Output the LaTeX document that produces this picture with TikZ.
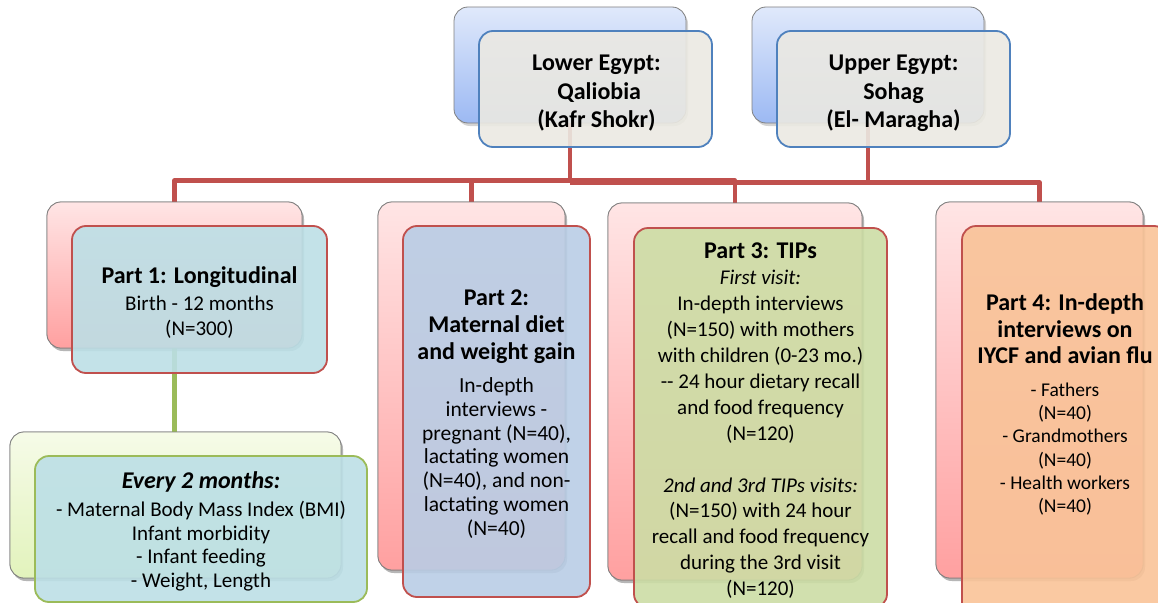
\documentclass[tikz,border=0pt]{standalone}
\usepackage{fontspec}
\setmainfont{Carlito}
\usetikzlibrary{fit,shadows}

\definecolor{redln}{HTML}{C0504D}
\definecolor{grnln}{HTML}{9BBB59}
\definecolor{blubd}{HTML}{4F81BD}
\definecolor{topfront}{HTML}{EBE9E2}
\definecolor{bluetop}{HTML}{E0E9FB}
\definecolor{bluebot}{HTML}{9CB9F3}
\definecolor{redtop}{HTML}{FFE5E5}
\definecolor{redbot}{HTML}{FFA0A0}
\definecolor{grntop}{HTML}{F6FBE8}
\definecolor{grnbot}{HTML}{E2F3BC}
\definecolor{fillA}{HTML}{BCDFE6}
\definecolor{fillB}{HTML}{B9CDE5}
\definecolor{fillC}{HTML}{CCDDA5}
\definecolor{fillD}{HTML}{F9C398}

\begin{document}
\begin{tikzpicture}[x=1pt,y=-1pt,
  backbox/.style={rectangle, rounded corners=14pt, draw=black!50, line width=0.8pt, inner sep=0pt,
    drop shadow={shadow xshift=2pt, shadow yshift=-3pt, opacity=0.35}},
  backblue/.style={backbox, top color=bluetop, bottom color=bluebot},
  backred/.style={backbox, top color=redtop, bottom color=redbot},
  backgrn/.style={backbox, top color=grntop, bottom color=grnbot},
  frontbox/.style={rectangle, rounded corners=14pt, line width=1.8pt, inner sep=0pt, fill opacity=0.9},
  frontblue/.style={frontbox, draw=blubd, fill=topfront},
  frontred/.style={frontbox, draw=redln},
  frontgrn/.style={frontbox, draw=grnln, fill=fillA},
  redconn/.style={draw=redln, line width=4.6pt, line join=round},
  grnconn/.style={draw=grnln, line width=4.5pt},
  ttl/.style={align=center, inner sep=0pt, font=\fontsize{24}{28.5}\selectfont\bfseries},
  bdy/.style={align=center, inner sep=0pt, font=\fontsize{21}{25}\selectfont}
]
\useasboundingbox (0,0) rectangle (1158,602);
\clip (0,0) rectangle (1158,602);

% back boxes of the two regions
\node[backblue, fit={(454,7) (686,123)}] (leb) {};
\node[backblue, fit={(752,7) (984,123)}] (ueb) {};

% corner points of the part boxes
\coordinate (busL) at (0,180.5);
\coordinate (busU) at (0,182.5);
\path (47,202) coordinate (p1nw) (302,348) coordinate (p1se);
\path (378,202) coordinate (p2nw) (565,570) coordinate (p2se);
\path (608,203) coordinate (p3nw) (862,580) coordinate (p3se);
\path (936,202) coordinate (p4nw) (1143,578) coordinate (p4se);
\path (10,432) coordinate (e2nw) (341,578) coordinate (e2se);

\node[backred, fit={(p1nw) (p1se)}] (p1b) {};
\node[backred, fit={(p2nw) (p2se)}] (p2b) {};
\node[backred, fit={(p3nw) (p3se)}] (p3b) {};
\node[backred, fit={(p4nw) (p4se)}] (p4b) {};
\node[backgrn, fit={(e2nw) (e2se)}] (e2b) {};

% connectors
\draw[redconn] (leb.south) -- (leb.south |- busL) -| (p1b.north);
\draw[redconn] (leb.south |- busL) -| (p2b.north);
\draw[redconn] (leb.south |- busL) -| (p3b.north);
\draw[redconn] (ueb.south) -- (ueb.south |- busU);
\draw[redconn] (leb.south |- busU) -| (p4b.north);
\draw[grnconn] (p1b.south) -- (p1b.south |- e2b.north);

% redraw back boxes over connector ends
\node[backred, fit={(p1nw) (p1se)}] (p1bb) {};
\node[backred, fit={(p2nw) (p2se)}] (p2bb) {};
\node[backred, fit={(p3nw) (p3se)}] (p3bb) {};
\node[backred, fit={(p4nw) (p4se)}] (p4bb) {};
\node[backgrn, fit={(e2nw) (e2se)}] (e2bb) {};

% front boxes
\node[frontblue, fit={(479,31) (712,147)}] (lef) {};
\node[frontblue, fit={(777,31) (1010,147)}] (uef) {};
\node[frontred, fill=fillA, fit={(72,226) (327,373)}] (p1f) {};
\node[frontred, fill=fillB, fit={(403,226) (590,597)}] (p2f) {};
\node[frontred, fill=fillC, fit={(634,228) (887,608)}] (p3f) {};
\node[frontred, fill=fillD, fit={(962,226) (1168,630)}] (p4f) {};
\node[frontgrn, fit={(35,456) (367,602)}] (e2f) {};

% texts
\node[ttl] (let) at (596.5,93.5) {Lower Egypt:\\ \ Qaliobia\\ (Kafr Shokr)};
\node[ttl] (uet) at (893.5,93.5) {Upper Egypt:\\ Sohag\\ (El- Maragha)};

\node[ttl] (p1t) at (199.5,277) {Part 1: Longitudinal};
\node[bdy] (p1x) at (199.5,317.5) {Birth - 12 months\\ (N=300)};

\node[ttl, font=\fontsize{24}{27}\selectfont\bfseries] (p2t) at (496.5,327) {Part 2:\\ Maternal diet\\ and weight gain};
\node[bdy, font=\fontsize{21.5}{23.7}\selectfont] (p2x) at (496.5,458) {In-depth\\ interviews -\\ pregnant (N=40),\\ lactating women\\ (N=40), and non-\\ lactating women\\ (N=40)};

\node[ttl] (p3t) at (760.5,251) {Part 3: TIPs};
\node[bdy, font=\fontsize{21}{25.9}\selectfont] (p3x) at (760.5,434.5) {\textit{First visit:}\\ In-depth interviews\\ (N=150) with mothers\\ with children (0-23 mo.)\\ -{}- 24 hour dietary recall\\ and food frequency\\ (N=120)\\[25.9pt] \textit{2nd and 3rd TIPs visits:}\\ (N=150) with 24 hour\\ recall and food frequency\\ during the 3rd visit\\ (N=120)};

\node[ttl, font=\fontsize{24}{26.5}\selectfont\bfseries] (p4t) at (1065,328.7) {Part 4: In-depth\\ interviews on\\ IYCF and avian flu};
\node[bdy, font=\fontsize{19.5}{23.2}\selectfont] (p4x) at (1065,449) {- Fathers\\ (N=40)\\ - Grandmothers\\ (N=40)\\ - Health workers\\ (N=40)};

\node[ttl, font=\fontsize{24}{28}\selectfont\bfseries\itshape] (e2t) at (201,482) {Every 2 months:};
\node[bdy, font=\fontsize{21}{23.7}\selectfont] (e2x) at (201,546) {- Maternal Body Mass Index (BMI)\\ Infant morbidity\\ - Infant feeding\\ - Weight, Length};
\end{tikzpicture}
\end{document}
